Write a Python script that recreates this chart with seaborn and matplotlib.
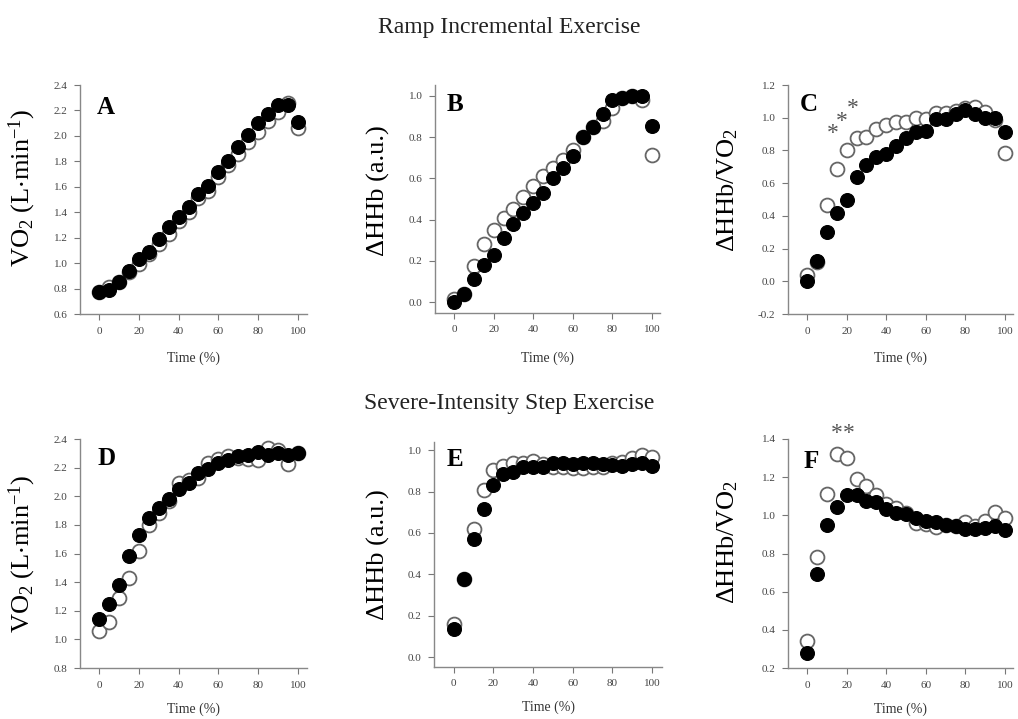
import numpy as np
import pandas as pd
import matplotlib
matplotlib.use("Agg")
import matplotlib.pyplot as plt
import seaborn as sns

# ---------------- data ----------------
time_pct = [0, 5, 10, 15, 20, 25, 30, 35, 40, 45, 50, 55, 60, 65, 70, 75, 80, 85, 90, 95, 100]

# Ramp incremental exercise
ramp_vo2_filled = [0.77, 0.79, 0.855, 0.94, 1.03, 1.09, 1.19, 1.28, 1.36, 1.44, 1.54, 1.61, 1.72, 1.80, 1.91, 2.01, 2.10, 2.17, 2.24, 2.24, 2.11]
ramp_vo2_open = [0.77, 0.81, 0.85, 0.93, 0.99, 1.07, 1.15, 1.23, 1.33, 1.40, 1.51, 1.57, 1.68, 1.77, 1.86, 1.95, 2.03, 2.12, 2.19, 2.26, 2.06]

ramp_hhb_filled = [0.0, 0.04, 0.11, 0.18, 0.23, 0.31, 0.38, 0.43, 0.48, 0.53, 0.60, 0.65, 0.71, 0.80, 0.85, 0.91, 0.98, 0.99, 1.00, 1.00, 0.855]
ramp_hhb_open = [0.015, 0.04, 0.175, 0.28, 0.35, 0.41, 0.45, 0.51, 0.565, 0.61, 0.65, 0.69, 0.74, 0.80, 0.85, 0.88, 0.94, 0.99, 1.00, 0.98, 0.715]

ramp_ratio_filled = [0.0, 0.123, 0.30, 0.42, 0.50, 0.64, 0.71, 0.76, 0.78, 0.826, 0.873, 0.91, 0.92, 0.99, 0.99, 1.02, 1.047, 1.02, 1.00, 1.00, 0.91]
ramp_ratio_open = [0.04, 0.12, 0.464, 0.685, 0.805, 0.873, 0.88, 0.93, 0.955, 0.975, 0.975, 0.996, 0.99, 1.026, 1.026, 1.04, 1.06, 1.067, 1.035, 0.985, 0.787]

# Severe-intensity step exercise
step_vo2_filled = [1.14, 1.25, 1.38, 1.58, 1.73, 1.85, 1.92, 1.98, 2.05, 2.09, 2.16, 2.19, 2.23, 2.255, 2.28, 2.29, 2.31, 2.29, 2.30, 2.285, 2.30]
step_vo2_open = [1.062, 1.12, 1.29, 1.43, 1.62, 1.80, 1.88, 1.97, 2.09, 2.115, 2.13, 2.23, 2.26, 2.28, 2.27, 2.26, 2.255, 2.34, 2.325, 2.227, 2.30]

step_hhb_filled = [0.137, 0.376, 0.569, 0.714, 0.83, 0.884, 0.895, 0.92, 0.92, 0.92, 0.94, 0.94, 0.936, 0.94, 0.94, 0.932, 0.93, 0.923, 0.932, 0.94, 0.923]
step_hhb_open = [0.16, 0.376, 0.617, 0.81, 0.904, 0.925, 0.94, 0.94, 0.947, 0.936, 0.92, 0.92, 0.916, 0.912, 0.92, 0.92, 0.94, 0.944, 0.963, 0.976, 0.968]

step_ratio_filled = [0.277, 0.69, 0.949, 1.046, 1.107, 1.104, 1.077, 1.072, 1.033, 1.01, 1.007, 0.988, 0.972, 0.967, 0.949, 0.946, 0.93, 0.93, 0.933, 0.944, 0.923]
step_ratio_open = [0.34, 0.782, 1.112, 1.32, 1.30, 1.19, 1.156, 1.107, 1.06, 1.037, 1.01, 0.96, 0.954, 0.94, 0.949, 0.946, 0.967, 0.946, 0.972, 1.019, 0.984]

# significance asterisks (x, y)
stars_c_x = [13, 17.8, 23]
stars_c_y = [0.905, 0.975, 1.057]
stars_f_x = [15, 21]
stars_f_y = [1.43, 1.43]

titles = ["Ramp Incremental Exercise", "Severe-Intensity Step Exercise"]
panel_letters = ["A", "B", "C", "D", "E", "F"]
ylabels = ["VO$_2$ (L$\\cdot$min$^{-1}$)", "\u0394HHb (a.u.)", "\u0394HHb/VO$_2$"]
xlabel = "Time (%)"

# ---------------- style ----------------
sns.set_theme(style="ticks")
plt.rcParams["font.family"] = ["Liberation Serif", "DejaVu Serif"]
plt.rcParams["mathtext.fontset"] = "custom"
plt.rcParams["mathtext.rm"] = "Liberation Serif"
plt.rcParams["mathtext.it"] = "Liberation Serif:italic"
plt.rcParams["mathtext.default"] = "regular"

W, H = 1018, 719
fig = plt.figure(figsize=(W / 100, H / 100), dpi=100)

def add_axes_px(left, top, right, bottom):
    return fig.add_axes([left / W, 1 - bottom / H, (right - left) / W, (bottom - top) / H])

# pixel boxes (left, top, right, bottom)
boxes = [
    (80, 85, 307, 314),
    (435, 85, 660, 313),
    (788, 85, 1013, 314),
    (80, 439, 307, 668),
    (434, 442, 662, 667),
    (788, 439, 1013, 668),
]
xlims = [(-9.5, 104.5), (-9.6, 104), (-9.6, 104), (-9.5, 104.5), (-10, 105), (-9.6, 104)]
ylims = [(0.6, 2.4), (-0.053, 1.053), (-0.2, 1.2), (0.8, 2.4), (-0.048, 1.04), (0.2, 1.4)]
yticks = [np.arange(0.6, 2.41, 0.2), np.arange(0, 1.01, 0.2), np.arange(-0.2, 1.21, 0.2),
          np.arange(0.8, 2.41, 0.2), np.arange(0, 1.01, 0.2), np.arange(0.2, 1.41, 0.2)]
label_y = [0.55, 0.535, 0.54, 0.5, 0.5, 0.55]
label_x = [-0.185, -0.2, -0.213, -0.185, -0.193, -0.213]
letter_pos = [(0.075, 0.952), (0.053, 0.965), (0.053, 0.965), (0.075, 0.965), (0.057, 0.973), (0.067, 0.952)]
xlabel_y = [-0.165, -0.17, -0.165, -0.15, -0.15, -0.15]

series = [
    (ramp_vo2_filled, ramp_vo2_open, 0),
    (ramp_hhb_filled, ramp_hhb_open, 1),
    (ramp_ratio_filled, ramp_ratio_open, 2),
    (step_vo2_filled, step_vo2_open, 0),
    (step_hhb_filled, step_hhb_open, 1),
    (step_ratio_filled, step_ratio_open, 2),
]

grey = "#555555"
for i, (filled, opened, lab) in enumerate(series):
    ax = add_axes_px(*boxes[i])
    df = pd.DataFrame({"time": time_pct + time_pct,
                       "value": opened + filled,
                       "group": ["open"] * len(time_pct) + ["filled"] * len(time_pct)})
    sns.scatterplot(data=df[df.group == "open"], x="time", y="value", ax=ax,
                    s=100, marker="o", facecolor="white", edgecolor="#666666",
                    linewidth=1.3, zorder=3, clip_on=False, legend=False)
    sns.scatterplot(data=df[df.group == "filled"], x="time", y="value", ax=ax,
                    s=100, marker="o", color="black", edgecolor="black",
                    linewidth=0.8, zorder=4, clip_on=False, legend=False)
    ax.set_xlim(*xlims[i])
    ax.set_ylim(*ylims[i])
    ax.set_xticks([0, 20, 40, 60, 80, 100])
    ax.set_yticks(yticks[i])
    ax.set_yticklabels([f"{v:.1f}" for v in yticks[i]])
    for side in ["top", "right"]:
        ax.spines[side].set_visible(False)
    for side in ["left", "bottom"]:
        ax.spines[side].set_color("#888888")
        ax.spines[side].set_linewidth(1.0)
    ax.tick_params(direction="out", length=4, width=0.8, colors="#777777",
                   labelcolor="#444444", labelsize=8)
    ax.tick_params(axis="y", pad=5)
    ax.tick_params(axis="x", pad=5)
    ax.set_ylabel(ylabels[lab], fontsize=19, color="black")
    ax.yaxis.set_label_coords(label_x[i], label_y[i])
    ax.set_xlabel(xlabel, fontsize=10, color="#333333")
    ax.xaxis.set_label_coords(0.5, xlabel_y[i])
    ax.text(letter_pos[i][0], letter_pos[i][1], panel_letters[i], transform=ax.transAxes,
            ha="left", va="top", fontsize=18, fontweight="bold", color="black")
    ax.set_facecolor("white")
    if i == 2:
        for sx, sy in zip(stars_c_x, stars_c_y):
            ax.text(sx, sy, "*", ha="center", va="center", fontsize=17, color=grey)
    if i == 5:
        for sx, sy in zip(stars_f_x, stars_f_y):
            ax.text(sx, sy, "*", ha="center", va="center", fontsize=17, color=grey, clip_on=False)

fig.text(0.5, 1 - 27 / H, titles[0], ha="center", va="center", fontsize=17, color="#222222")
fig.text(0.5, 1 - 403 / H, titles[1], ha="center", va="center", fontsize=17, color="#222222")

fig.savefig("out.png", dpi=100, facecolor="white")
